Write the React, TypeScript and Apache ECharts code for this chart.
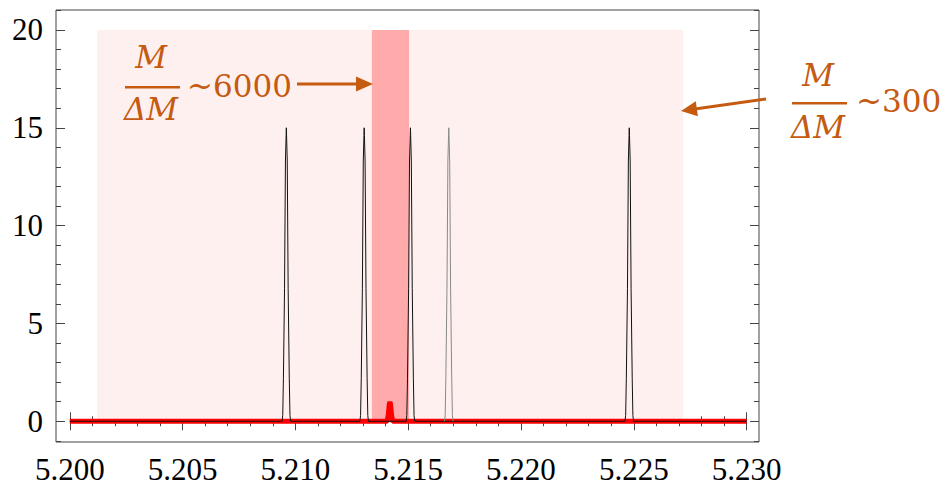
import React, { useEffect, useRef } from "react";
import * as echarts from "echarts";

// ---- data ----
const xMin = 5.19939;
const xMax = 5.23055;
const yMin = -1.06;
const yMax = 21.02;
const xMajorTicks = [5.2, 5.205, 5.21, 5.215, 5.22, 5.225, 5.23];
const yMajorTicks = [0, 5, 10, 15, 20];

const spectrumStart = 5.2;
const spectrumEnd = 5.23;

// black (high resolution) peaks
const blackPeakCenters = [5.2096, 5.21305, 5.2151, 5.2248];
const grayPeakCenters = [5.2168];
const peakProfileDx = [-0.00019, -0.00016, -0.00013, -0.00008, -0.00004, -0.00001, 0, 0.00001, 0.00004, 0.00008, 0.00013, 0.00016, 0.00019];
const peakProfileY = [0, 0.3, 2.2, 6.8, 13.3, 14.6, 15, 14.6, 13.3, 6.8, 2.2, 0.3, 0];

// red (low resolution) signal
const redPeakCenters = [5.21419];
const redProfileDx = [-0.00012, -0.00007, -0.00003, 0, 0.00003, 0.00007, 0.00012];
const redProfileY = [0, 0.35, 0.85, 1.0, 0.85, 0.35, 0];

// resolution windows
const wideWindow = [5.20121, 5.22719];
const narrowWindow = [5.21339, 5.21504];
const windowHeight = [0, 20];

const annotationLeft = { frac: "M", den: "ΔM", tail: "~6000" };
const annotationRight = { frac: "M", den: "ΔM", tail: "~300" };

function buildSpectrum(centers: number[], dx: number[], dy: number[], withBaseline: boolean) {
  const pts: (number | null)[][] = [];
  if (withBaseline) pts.push([spectrumStart, 0]);
  centers
    .slice()
    .sort((a, b) => a - b)
    .forEach((c) => {
      if (!withBaseline && pts.length) pts.push([null as any, null as any]);
      dx.forEach((d, i) => pts.push([c + d, dy[i]]));
    });
  if (withBaseline) pts.push([spectrumEnd, 0]);
  return pts;
}

function minorValues(from: number, to: number, step: number, majors: number[]) {
  const out: number[] = [];
  const n = Math.round((to - from) / step);
  for (let i = 0; i <= n; i++) {
    const v = +(from + i * step).toFixed(6);
    if (!majors.some((m) => Math.abs(m - v) < step / 10)) out.push(v);
  }
  return out;
}

const ORANGE = "#C55A11";
const FRAME = "#444";
const LABEL_FONT = "Times New Roman";
const labelRich = { t: { fontFamily: LABEL_FONT, fontSize: 31, color: "#000", lineHeight: 31 } };

export default function App() {
  const ref = useRef<HTMLDivElement>(null);
  useEffect(() => {
    if (!ref.current) return;
    const chart = echarts.init(ref.current, undefined, { renderer: "svg" });
    const xMinor = minorValues(5.2, 5.23, 0.001, xMajorTicks);
    const yMinor = minorValues(-1, 21, 1, yMajorTicks);

    const xAxisBase = (position: string, ticks: number[], len: number, labels: boolean) => ({
      type: "value",
      min: xMin,
      max: xMax,
      position,
      axisLine: { show: false },
      splitLine: { show: false },
      axisTick: { show: true, inside: true, length: len, customValues: ticks, lineStyle: { color: FRAME, width: 1 } },
      axisLabel: labels
        ? {
            show: true,
            customValues: ticks,
            formatter: (v: number) => "{t|" + v.toFixed(3) + "}",
            rich: labelRich,
            fontFamily: LABEL_FONT,
            fontSize: 31,
            color: "#000",
            margin: 12,
          }
        : { show: false },
    });
    const yAxisBase = (position: string, ticks: number[], len: number, labels: boolean) => ({
      type: "value",
      min: yMin,
      max: yMax,
      position,
      axisLine: { show: false },
      splitLine: { show: false },
      axisTick: { show: true, inside: true, length: len, customValues: ticks, lineStyle: { color: FRAME, width: 1 } },
      axisLabel: labels
        ? {
            show: true,
            customValues: ticks,
            formatter: (v: number) => "{t|" + String(v) + "}",
            rich: labelRich,
            fontFamily: LABEL_FONT,
            fontSize: 31,
            color: "#000",
            margin: 13,
          }
        : { show: false },
    });

    const dirX = -85, dirY = 12;
    const dl = Math.hypot(dirX, dirY);
    const ux = dirX / dl, uy = dirY / dl;
    const tip2 = [681, 111];
    const base2 = [tip2[0] - 16 * ux, tip2[1] - 16 * uy];
    const px = -uy * 7.5, py = ux * 7.5;

    const fracText = (txt: string, x: number, y: number) => ({
      type: "text",
      x,
      y,
      style: {
        text: txt,
        fill: ORANGE,
        font: "italic 31px 'DejaVu Serif'",
        align: "center",
        verticalAlign: "middle",
      },
      z: 100,
    });
    const tailText = (txt: string, x: number, y: number) => ({
      type: "text",
      x,
      y,
      style: {
        text: txt,
        fill: ORANGE,
        font: "31px 'DejaVu Serif'",
        align: "left",
        verticalAlign: "middle",
      },
      z: 100,
    });

    chart.setOption({
      animation: false,
      grid: {
        left: 56,
        right: 186,
        top: 10,
        bottom: 45,
        show: true,
        borderColor: FRAME,
        borderWidth: 1,
        backgroundColor: "transparent",
      },
      xAxis: [
        xAxisBase("bottom", xMajorTicks, 9, true),
        xAxisBase("bottom", xMinor, 5, false),
        xAxisBase("top", xMajorTicks, 9, false),
        xAxisBase("top", xMinor, 5, false),
      ],
      yAxis: [
        yAxisBase("left", yMajorTicks, 9, true),
        yAxisBase("left", yMinor, 5, false),
        yAxisBase("right", yMajorTicks, 9, false),
        yAxisBase("right", yMinor, 5, false),
      ],
      series: [
        {
          type: "line",
          name: "windows",
          data: [],
          z: 1,
          silent: true,
          markArea: {
            silent: true,
            data: [
              [
                { xAxis: wideWindow[0], yAxis: windowHeight[0], itemStyle: { color: "#FFF0F0" } },
                { xAxis: wideWindow[1], yAxis: windowHeight[1] },
              ],
              [
                { xAxis: narrowWindow[0], yAxis: windowHeight[0], itemStyle: { color: "#FFABAB" } },
                { xAxis: narrowWindow[1], yAxis: windowHeight[1] },
              ],
            ],
          },
        },
        {
          type: "line",
          name: "low resolution",
          data: buildSpectrum(redPeakCenters, redProfileDx, redProfileY, true),
          symbol: "none",
          lineStyle: { color: "#FF0000", width: 5 },
          z: 3,
          silent: true,
        },
        {
          type: "line",
          name: "high resolution",
          data: buildSpectrum(blackPeakCenters, peakProfileDx, peakProfileY, true),
          symbol: "none",
          lineStyle: { color: "#111", width: 1 },
          z: 4,
          silent: true,
        },
        {
          type: "line",
          name: "high resolution (gray)",
          data: buildSpectrum(grayPeakCenters, peakProfileDx, peakProfileY, false),
          symbol: "none",
          connectNulls: false,
          lineStyle: { color: "#888", width: 1 },
          z: 4,
          silent: true,
        },
      ],
      graphic: [
        fracText(annotationLeft.frac, 151, 57),
        { type: "rect", shape: { x: 125, y: 86, width: 55, height: 2.5 }, style: { fill: ORANGE }, z: 100 },
        fracText(annotationLeft.den, 151, 109),
        tailText(annotationLeft.tail, 187, 86),
        { type: "line", shape: { x1: 297, y1: 84, x2: 358, y2: 84 }, style: { stroke: ORANGE, lineWidth: 3 }, z: 100 },
        { type: "polygon", shape: { points: [[373, 84], [356, 76.5], [356, 91.5]] }, style: { fill: ORANGE }, z: 100 },

        fracText(annotationRight.frac, 818, 75),
        { type: "rect", shape: { x: 792, y: 102, width: 55, height: 2.5 }, style: { fill: ORANGE }, z: 100 },
        fracText(annotationRight.den, 818, 127),
        tailText(annotationRight.tail, 856, 101),
        { type: "line", shape: { x1: 766, y1: 99, x2: base2[0] + 2 * ux, y2: base2[1] + 2 * uy }, style: { stroke: ORANGE, lineWidth: 3 }, z: 100 },
        {
          type: "polygon",
          shape: { points: [tip2, [base2[0] + px, base2[1] + py], [base2[0] - px, base2[1] - py]] },
          style: { fill: ORANGE },
          z: 100,
        },
      ],
    });
    return () => chart.dispose();
  }, []);
  return (
    <div
      ref={ref}
      style={{ position: "fixed", left: 0, top: 0, width: 945, height: 487, background: "#fff" }}
    />
  );
}
